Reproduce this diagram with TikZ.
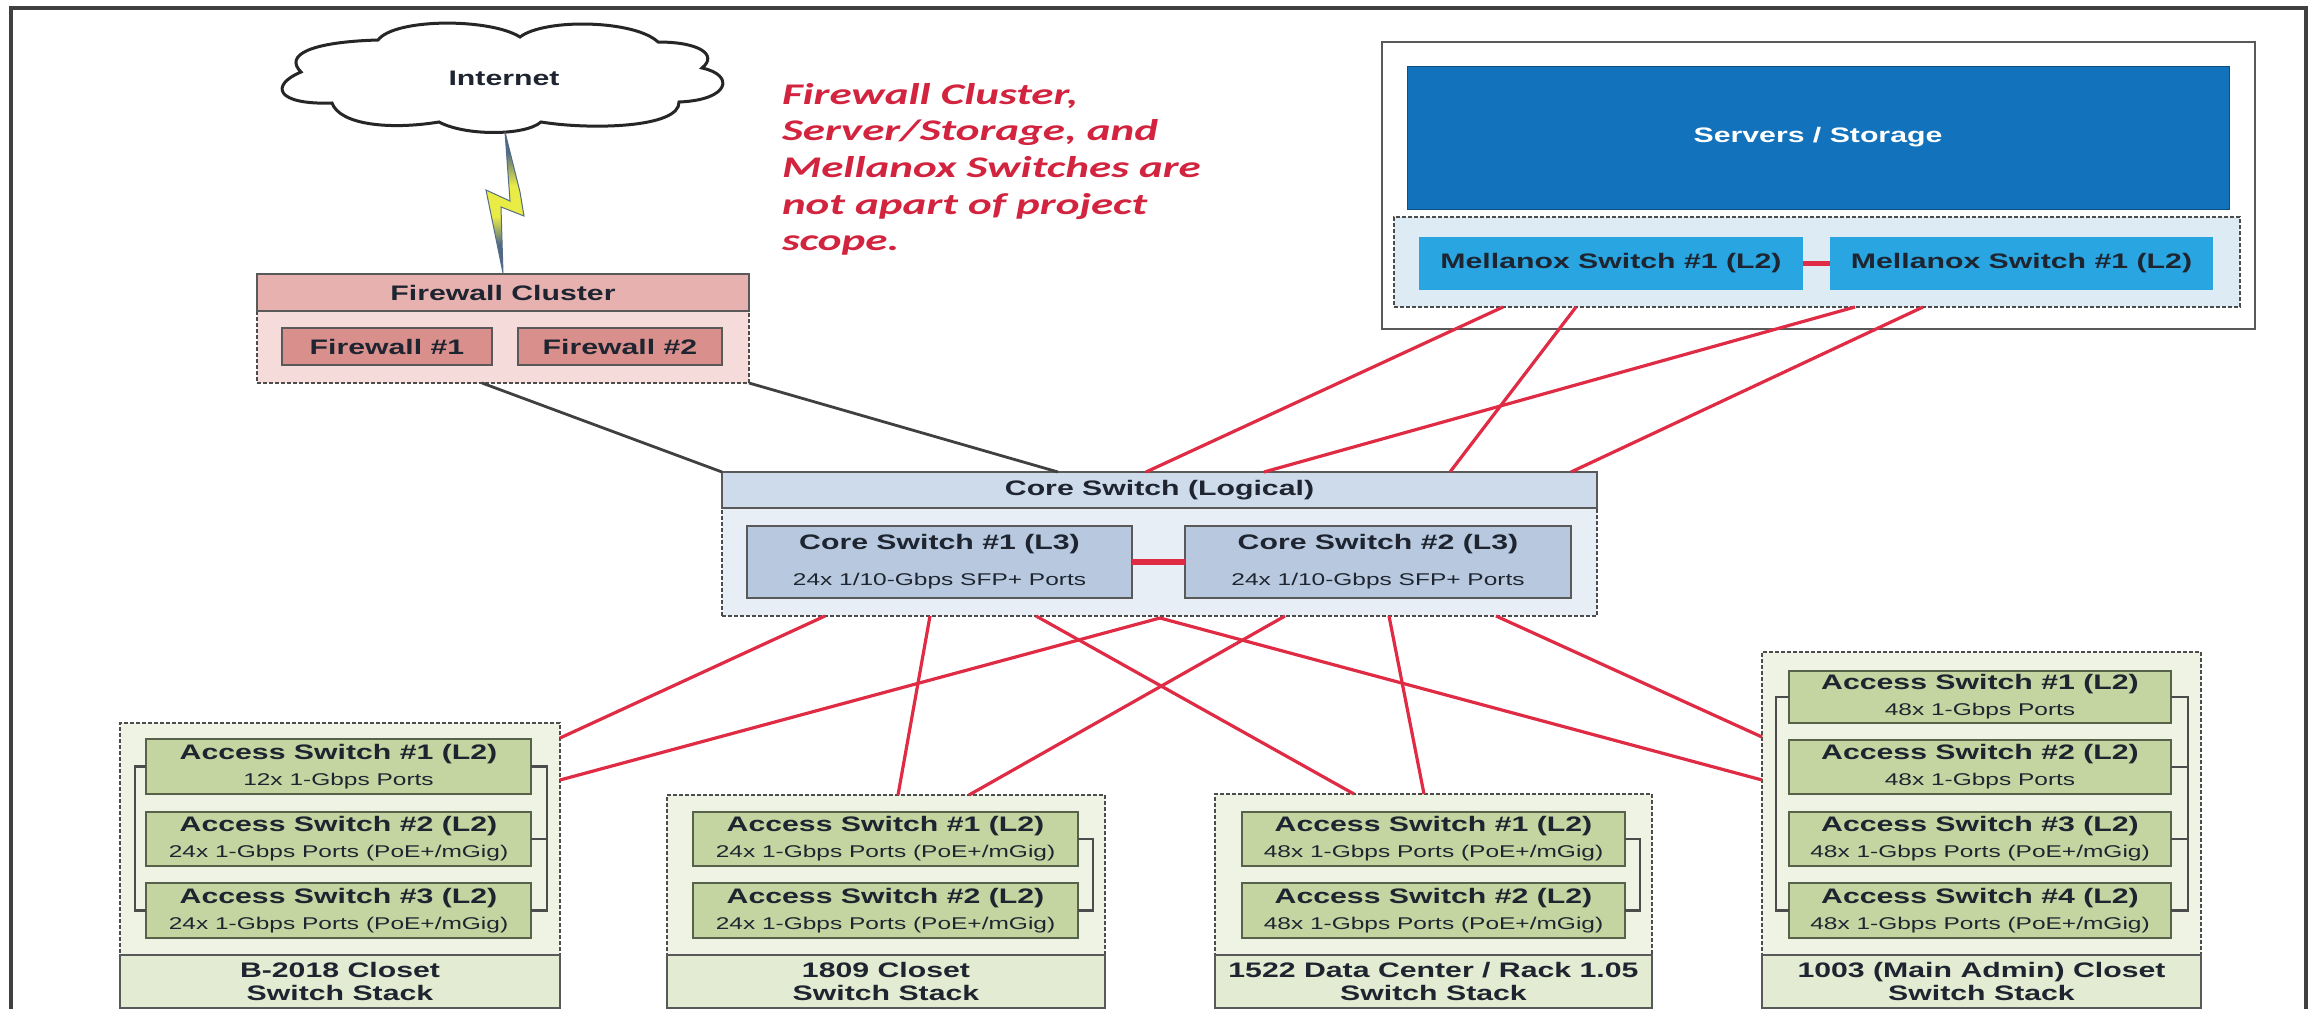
\documentclass[tikz,border=0pt]{standalone}
\usepackage{fontspec}
\usetikzlibrary{calc}
\setmainfont{Liberation Sans}
\newfontfamily\wideface[FakeStretch=1.44]{Liberation Sans}
\newfontfamily\noteface[FakeStretch=1.5]{Carlito}
\newcommand{\ttlf}{\wideface\bfseries\fontsize{21}{26}\selectfont}
\newcommand{\ttlcore}{\wideface\bfseries\fontsize{21}{36}\selectfont}
\newcommand{\ttlhead}{\wideface\bfseries\fontsize{21}{23}\selectfont}
\newcommand{\subf}{\wideface\mdseries\fontsize{17}{25}\selectfont}
\definecolor{inkc}{HTML}{1E2530}
\definecolor{redl}{HTML}{E02B45}
\definecolor{notec}{HTML}{D2233F}
\definecolor{boltblue}{HTML}{3B5F8A}
\definecolor{boltyel}{HTML}{E9EC45}
\definecolor{grnedge}{HTML}{56634A}
\pgfdeclareverticalshading{boltshade}{100bp}{color(0bp)=(boltblue); color(35bp)=(boltblue!70!gray); color(45bp)=(boltyel); color(56bp)=(boltyel); color(68bp)=(boltblue!70!gray); color(100bp)=(boltblue)}
\tikzset{
  x=1pt,y=-1pt,
  every node/.style={inner sep=0pt,outer sep=0pt,text=inkc,align=center,font=\ttlf},
  dashbody/.style={draw=black!70,line width=2.4pt,dash pattern=on 4pt off 2pt},
  headbox/.style={draw=black!65,line width=2.4pt},
  firehead/.style={headbox,fill=fireH},
  firebody/.style={dashbody,fill=fireB},
  firebox/.style={headbox,draw=black!65,fill=fireS},
  corehd/.style={headbox,fill=coreH},
  corebd/.style={dashbody,fill=coreB},
  corebox/.style={headbox,fill=coreS,font=\ttlcore,execute at begin node={\rule{0pt}{28pt}}},
  stackhd/.style={headbox,fill=grnH,font=\ttlhead},
  stackbd/.style={dashbody,fill=grnB},
  accbox/.style={draw=grnedge,line width=2.6pt,fill=grnS,execute at begin node={\rule{0pt}{28pt}}},
  mlxbody/.style={dashbody,fill=mlxB},
  mlxbox/.style={fill=mlxS},
  redlink/.style={draw=redl,line width=3.2pt},
  boldlink/.style={draw=redl,line width=5.5pt},
  graylink/.style={draw=black!75,line width=2.8pt},
  stacklink/.style={draw=black!70,line width=2.2pt},
}
\definecolor{fireH}{HTML}{E6B1AF}
\definecolor{fireB}{HTML}{F5DBD9}
\definecolor{fireS}{HTML}{D98F8C}
\definecolor{coreH}{HTML}{CEDBEA}
\definecolor{coreB}{HTML}{E8EEF6}
\definecolor{coreS}{HTML}{B8C9DF}
\definecolor{grnH}{HTML}{E3EBD2}
\definecolor{grnB}{HTML}{EEF3E4}
\definecolor{grnS}{HTML}{C5D5A2}
\definecolor{mlxB}{HTML}{DDEBF5}
\definecolor{mlxS}{HTML}{29A6E1}
\definecolor{srvS}{HTML}{1272BC}
\newcommand{\pxbox}[7]{%
  \pgfmathsetmacro{\pcx}{(#3+#5)/2}%
  \pgfmathsetmacro{\pcy}{(#4+#6)/2}%
  \pgfmathsetmacro{\pwd}{#5-#3}%
  \pgfmathsetmacro{\pht}{#6-#4}%
  \node[#1,minimum width=\pwd pt,minimum height=\pht pt] (#2) at (\pcx,\pcy) {#7};%
}
\begin{document}
\begin{tikzpicture}
\useasboundingbox (0,0) rectangle (2318,1009);
\fill[white] (0,0) rectangle (2318,1009);
% outer frame
\draw[black!75,line width=4pt] (11,1012) -- (11,8) -- (2306,8) -- (2306,1012);
% cloud
\draw[fill=white,draw=black!85,line width=3pt] (301,72)
  .. controls (284,55) and (310,42) .. (378,40)
  .. controls (395,18) and (490,18) .. (520,37)
  .. controls (545,18) and (635,20) .. (658,42)
  .. controls (700,42) and (718,55) .. (702,68)
  .. controls (735,75) and (730,100) .. (679,102)
  .. controls (680,128) and (590,130) .. (541,122)
  .. controls (525,136) and (465,136) .. (439,122)
  .. controls (390,130) and (340,125) .. (332,103)
  .. controls (275,105) and (270,85) .. (301,72) -- cycle;
\node (internet) at (504,78) {Internet};
% note
\node[anchor=north west,align=left,text=notec,font=\noteface\bfseries\itshape\fontsize{30}{36.7}\selectfont] (note) at (782,83)
  {Firewall Cluster,\\Server/Storage, and\\Mellanox Switches are\\not apart of project\\scope.};
% firewall
\pxbox{firebody}{fwbody}{257}{311}{749}{383}{}
\pxbox{firehead}{fwhead}{257}{274}{749}{311}{Firewall Cluster}
\pxbox{firebox}{fwa}{282}{328}{492}{365}{Firewall \#1}
\pxbox{firebox}{fwb}{518}{328}{722}{365}{Firewall \#2}
% bolt
\shadedraw[shading=boltshade,draw=boltblue!60!gray,line width=1pt]
  (505,132) -- (520,192) -- (524,216) -- (501,207) -- (503,273) -- (486,190) -- (510,201) -- cycle;
% servers
\pxbox{draw=black!65,line width=2.4pt,fill=white}{srvframe}{1382}{42}{2255}{329}{}
\pxbox{fill=srvS,draw=srvS!70!black,line width=1pt,text=white}{servers}{1407}{66}{2229}{209}{Servers / Storage}
\pxbox{mlxbody}{mlxgroup}{1394}{217}{2240}{307}{}
\pxbox{mlxbox}{mlxa}{1419}{237}{1803}{290}{Mellanox Switch \#1 (L2)}
\pxbox{mlxbox}{mlxb}{1830}{237}{2213}{290}{Mellanox Switch \#1 (L2)}
\draw[boldlink] (mlxa) -- (mlxb);
% core
\pxbox{corebd}{corebody}{722}{508}{1597}{616}{}
\pxbox{corehd}{corehead}{722}{472}{1597}{508}{Core Switch (Logical)}
\pxbox{corebox}{corea}{747}{526}{1132}{598}{Core Switch \#1 (L3)\\{\subf 24x 1/10-Gbps SFP+ Ports}}
\pxbox{corebox}{coreb}{1185}{526}{1571}{598}{Core Switch \#2 (L3)\\{\subf 24x 1/10-Gbps SFP+ Ports}}
\draw[boldlink] (corea) -- (coreb);
% B-2018
\pxbox{stackbd}{bbody}{120}{723}{560}{955}{}
\pxbox{stackhd}{bhead}{120}{955}{560}{1008}{B-2018 Closet\\Switch Stack}
\pxbox{accbox}{ba}{146}{739}{531}{794}{Access Switch \#1 (L2)\\{\subf 12x 1-Gbps Ports}}
\pxbox{accbox}{bb}{146}{812}{531}{866}{Access Switch \#2 (L2)\\{\subf 24x 1-Gbps Ports (PoE+/mGig)}}
\pxbox{accbox}{bc}{146}{883}{531}{938}{Access Switch \#3 (L2)\\{\subf 24x 1-Gbps Ports (PoE+/mGig)}}
\draw[stacklink] (ba.east) -- ++(16,0) |- (bc.east);
\draw[stacklink] (bb.east) -- ++(16,0);
\draw[stacklink] (ba.west) -- ++(-11,0) |- (bc.west);
% 1809
\pxbox{stackbd}{cbody}{667}{795}{1105}{955}{}
\pxbox{stackhd}{chead}{667}{955}{1105}{1008}{1809 Closet\\Switch Stack}
\pxbox{accbox}{ca}{693}{812}{1078}{866}{Access Switch \#1 (L2)\\{\subf 24x 1-Gbps Ports (PoE+/mGig)}}
\pxbox{accbox}{cb}{693}{883}{1078}{938}{Access Switch \#2 (L2)\\{\subf 24x 1-Gbps Ports (PoE+/mGig)}}
\draw[stacklink] (ca.east) -- ++(15,0) |- (cb.east);
% 1522
\pxbox{stackbd}{dbody}{1215}{794}{1652}{955}{}
\pxbox{stackhd}{dhead}{1215}{955}{1652}{1008}{1522 Data Center / Rack 1.05\\Switch Stack}
\pxbox{accbox}{da}{1242}{812}{1625}{866}{Access Switch \#1 (L2)\\{\subf 48x 1-Gbps Ports (PoE+/mGig)}}
\pxbox{accbox}{db}{1242}{883}{1625}{938}{Access Switch \#2 (L2)\\{\subf 48x 1-Gbps Ports (PoE+/mGig)}}
\draw[stacklink] (da.east) -- ++(15,0) |- (db.east);
% 1003
\pxbox{stackbd}{ebody}{1762}{652}{2201}{955}{}
\pxbox{stackhd}{ehead}{1762}{955}{2201}{1008}{1003 (Main Admin) Closet\\Switch Stack}
\pxbox{accbox}{ea}{1789}{671}{2171}{723}{Access Switch \#1 (L2)\\{\subf 48x 1-Gbps Ports}}
\pxbox{accbox}{eb}{1789}{740}{2171}{794}{Access Switch \#2 (L2)\\{\subf 48x 1-Gbps Ports}}
\pxbox{accbox}{ec}{1789}{812}{2171}{866}{Access Switch \#3 (L2)\\{\subf 48x 1-Gbps Ports (PoE+/mGig)}}
\pxbox{accbox}{ed}{1789}{883}{2171}{938}{Access Switch \#4 (L2)\\{\subf 48x 1-Gbps Ports (PoE+/mGig)}}
\draw[stacklink] (ea.east) -- ++(17,0) |- (ed.east);
\draw[stacklink] (eb.east) -- ++(17,0);
\draw[stacklink] (ec.east) -- ++(17,0);
\draw[stacklink] (ea.west) -- ++(-13,0) |- (ed.west);
% firewall to core
\draw[graylink] ($(fwbody.south west)+(225,0)$) -- (corehead.north west);
\draw[graylink] (fwbody.south east) -- ($(corehead.north west)+(336,0)$);
% mellanox to core
\draw[redlink] ($(mlxgroup.south west)+(109,0)$) -- ($(corehead.north west)+(424,0)$);
\draw[redlink] ($(mlxgroup.south west)+(461,0)$) -- ($(corehead.north west)+(542,0)$);
\draw[redlink] ($(mlxgroup.south west)+(182,0)$) -- ($(corehead.north west)+(728,0)$);
\draw[redlink] ($(mlxgroup.south west)+(529,0)$) -- ($(corehead.north west)+(849,0)$);
% core to stacks
\draw[redlink] ($(corebody.south west)+(103,0)$) -- ($(bbody.north east)+(0,15)$);
\draw[redlink] ($(corebody.south west)+(438,2)$) -- ($(bbody.north east)+(0,57)$);
\draw[redlink] ($(corebody.south west)+(208,0)$) -- ($(cbody.north west)+(231,0)$);
\draw[redlink] ($(corebody.south west)+(563,0)$) -- ($(cbody.north west)+(302,0)$);
\draw[redlink] ($(corebody.south west)+(314,0)$) -- ($(dbody.north west)+(139,0)$);
\draw[redlink] ($(corebody.south west)+(667,0)$) -- ($(dbody.north west)+(209,0)$);
\draw[redlink] ($(corebody.south west)+(774,0)$) -- ($(ebody.north west)+(0,85)$);
\draw[redlink] ($(corebody.south west)+(438,2)$) -- ($(ebody.north west)+(0,128)$);
\end{tikzpicture}
\end{document}
